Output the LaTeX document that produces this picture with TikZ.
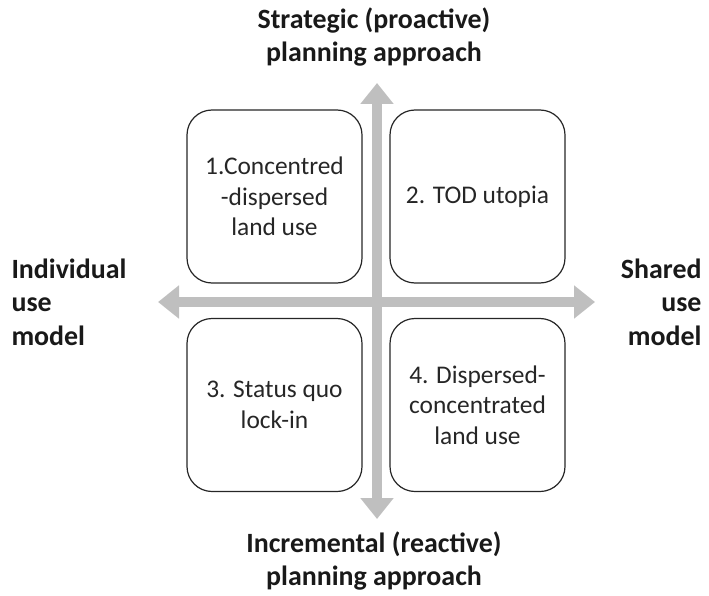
\documentclass[tikz,border=0pt]{standalone}
\usepackage{fontspec}
\setmainfont{Carlito}
\usepackage{tikz}
\usetikzlibrary{arrows.meta}

\tikzset{
  quadbox/.style={draw=black!85, line width=1.2bp, rounded corners=25bp,
    minimum width=175bp, minimum height=173bp, align=center,
    text=black!85, font=\fontsize{25.5}{30.5}\selectfont},
  axislabel/.style={font=\fontsize{28}{33.5}\selectfont\bfseries, text=black!90},
  axisarrow/.style={draw=black!25, line width=10bp,
    {Triangle[width=32bp,length=21bp]}-{Triangle[width=32bp,length=21bp]}}
}

\begin{document}
\begin{tikzpicture}[x=1bp,y=-1bp]
\useasboundingbox (0,0) rectangle (709,596);

% axes
\coordinate (top) at (377,83);
\coordinate (bottom) at (377,519);
\coordinate (left) at (158,302);
\coordinate (right) at (595,302);
\draw[axisarrow] (bottom) -- (top);
\draw[axisarrow] (left) -- (right);

% quadrants
\node[quadbox] (q1) at (274.5,196.5) {1.Concentred\\-dispersed\\land use};
\node[quadbox] (q2) at (477.5,196.5) {2. TOD utopia};
\node[quadbox] (q3) at (274.5,405) {3. Status quo\\lock-in};
\node[quadbox] (q4) at (477.5,405) {4. Dispersed-\\concentrated\\land use};

% axis labels
\node[axislabel, align=center] (strategic) at (374,37) {Strategic (proactive)\\planning approach};
\node[axislabel, align=center] (incremental) at (374,561) {Incremental (reactive)\\planning approach};
\node[axislabel, align=left, anchor=west] (individual) at (8,302) {Individual\\use\\model};
\node[axislabel, align=right, anchor=east] (shared) at (705,302) {Shared\\use\\model};
\end{tikzpicture}
\end{document}
